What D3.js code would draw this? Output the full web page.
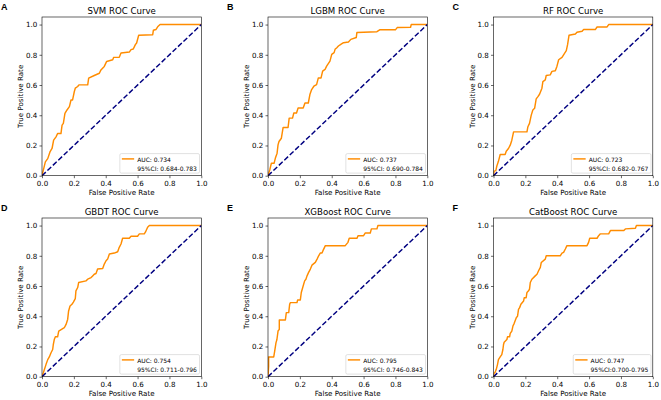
<!DOCTYPE html>
<html>
<head>
<meta charset="utf-8">
<script src="https://cdn.jsdelivr.net/npm/d3@7/dist/d3.min.js"></script>
<style>
  html, body { margin: 0; padding: 0; background: #fff; }
  svg { display: block; }
</style>
</head>
<body>
<svg id="chart" width="661" height="400"></svg>
<script>
// ---------- DATA ----------
const panelLetters = ["A", "B", "C", "D", "E", "F"];
const panelTitles = ["SVM ROC Curve", "LGBM ROC Curve", "RF ROC Curve",
                     "GBDT ROC Curve", "XGBoost ROC Curve", "CatBoost ROC Curve"];
const aucLabels = ["AUC: 0.734", "AUC: 0.737", "AUC: 0.723",
                   "AUC: 0.754", "AUC: 0.795", "AUC: 0.747"];
const ciLabels = ["95%CI: 0.684-0.783", "95%CI: 0.690-0.784", "95%CI: 0.682-0.767",
                  "95%CI: 0.711-0.796", "95%CI: 0.746-0.843", "95%CI:0.700-0.795"];
const tickValues = [0.0, 0.2, 0.4, 0.6, 0.8, 1.0];
const xLabel = "False Positive Rate";
const yLabel = "True Positive Rate";

const svmRoc = [[0,0],[0.008,0.035],[0.021,0.091],[0.036,0.113],[0.050,0.157],[0.063,0.180],
  [0.073,0.235],[0.088,0.257],[0.098,0.279],[0.119,0.279],[0.126,0.335],[0.134,0.346],
  [0.144,0.412],[0.157,0.435],[0.172,0.457],[0.182,0.501],[0.192,0.501],[0.203,0.557],
  [0.209,0.579],[0.224,0.590],[0.232,0.601],[0.287,0.601],[0.293,0.645],[0.328,0.663],
  [0.360,0.678],[0.370,0.700],[0.391,0.723],[0.406,0.756],[0.444,0.767],[0.450,0.783],
  [0.485,0.783],[0.496,0.812],[0.548,0.818],[0.559,0.834],[0.573,0.838],[0.586,0.867],
  [0.594,0.878],[0.607,0.929],[0.695,0.933],[0.699,0.962],[0.715,0.967],[0.726,0.985],
  [0.741,1.0],[1.0,1.0]];
const lgbmRoc = [[0,0],[0.011,0.038],[0.021,0.082],[0.038,0.082],[0.046,0.115],[0.057,0.149],
  [0.063,0.204],[0.069,0.226],[0.084,0.248],[0.095,0.319],[0.126,0.319],[0.133,0.381],
  [0.154,0.381],[0.162,0.415],[0.179,0.415],[0.189,0.448],[0.221,0.448],[0.232,0.481],
  [0.253,0.481],[0.263,0.537],[0.274,0.570],[0.288,0.592],[0.305,0.603],[0.316,0.647],
  [0.333,0.647],[0.343,0.692],[0.358,0.703],[0.368,0.725],[0.389,0.758],[0.400,0.803],
  [0.415,0.814],[0.421,0.836],[0.432,0.847],[0.442,0.858],[0.457,0.869],[0.474,0.880],
  [0.505,0.885],[0.520,0.902],[0.554,0.914],[0.558,0.947],[0.684,0.953],[0.701,0.965],
  [0.800,0.965],[0.811,0.980],[0.895,0.982],[0.899,1.0],[1.0,1.0]];
const rfRoc = [[0,0],[0.004,0.029],[0.015,0.035],[0.021,0.064],[0.031,0.095],[0.042,0.140],
  [0.073,0.140],[0.080,0.162],[0.094,0.180],[0.105,0.202],[0.115,0.235],[0.126,0.290],
  [0.210,0.290],[0.216,0.324],[0.226,0.346],[0.237,0.401],[0.247,0.435],[0.258,0.446],
  [0.268,0.508],[0.279,0.523],[0.289,0.539],[0.304,0.579],[0.310,0.623],[0.325,0.634],
  [0.331,0.663],[0.356,0.667],[0.367,0.690],[0.388,0.694],[0.398,0.723],[0.409,0.767],
  [0.430,0.783],[0.440,0.800],[0.457,0.827],[0.465,0.867],[0.474,0.929],[0.514,0.938],
  [0.524,0.949],[0.556,0.956],[0.566,0.967],[0.639,0.967],[0.650,0.984],[0.713,0.984],
  [0.723,1.0],[1.0,1.0]];
const gbdtRoc = [[0,0],[0.008,0.024],[0.015,0.047],[0.025,0.080],[0.036,0.113],[0.046,0.131],
  [0.056,0.157],[0.067,0.180],[0.071,0.213],[0.077,0.246],[0.084,0.264],[0.098,0.264],
  [0.105,0.302],[0.140,0.324],[0.151,0.346],[0.161,0.379],[0.167,0.435],[0.176,0.468],
  [0.188,0.479],[0.197,0.494],[0.209,0.517],[0.213,0.568],[0.224,0.590],[0.230,0.623],
  [0.276,0.634],[0.287,0.645],[0.308,0.656],[0.318,0.667],[0.328,0.678],[0.339,0.683],
  [0.349,0.712],[0.381,0.716],[0.391,0.745],[0.402,0.767],[0.412,0.778],[0.423,0.812],
  [0.454,0.818],[0.475,0.827],[0.485,0.856],[0.496,0.878],[0.506,0.916],[0.548,0.916],
  [0.559,0.929],[0.600,0.929],[0.611,0.945],[0.642,0.945],[0.649,0.956],[0.663,0.989],
  [0.674,1.0],[1.0,1.0]];
const xgbRoc = [[0,0],[0.004,0.069],[0.004,0.131],[0.036,0.131],[0.042,0.169],[0.050,0.224],
  [0.056,0.246],[0.063,0.302],[0.071,0.313],[0.071,0.375],[0.109,0.375],[0.115,0.424],
  [0.130,0.424],[0.136,0.479],[0.140,0.490],[0.182,0.490],[0.186,0.508],[0.203,0.508],
  [0.209,0.557],[0.218,0.590],[0.230,0.634],[0.238,0.645],[0.245,0.667],[0.255,0.690],
  [0.266,0.712],[0.276,0.738],[0.297,0.756],[0.308,0.778],[0.318,0.800],[0.328,0.818],
  [0.339,0.818],[0.345,0.834],[0.360,0.867],[0.485,0.867],[0.502,0.889],[0.510,0.916],
  [0.559,0.916],[0.565,0.933],[0.600,0.933],[0.611,0.951],[0.642,0.951],[0.649,0.978],
  [0.684,0.978],[0.690,1.0],[1.0,1.0]];
const catRoc = [[0,0],[0.004,0.024],[0.010,0.029],[0.017,0.047],[0.025,0.080],[0.031,0.113],
  [0.042,0.131],[0.052,0.146],[0.059,0.180],[0.063,0.213],[0.067,0.228],[0.084,0.246],
  [0.088,0.264],[0.101,0.264],[0.105,0.286],[0.115,0.302],[0.122,0.335],[0.130,0.353],
  [0.143,0.390],[0.151,0.401],[0.157,0.446],[0.164,0.457],[0.172,0.479],[0.189,0.501],
  [0.193,0.523],[0.205,0.523],[0.210,0.557],[0.220,0.568],[0.226,0.579],[0.231,0.623],
  [0.241,0.645],[0.262,0.667],[0.273,0.678],[0.283,0.701],[0.294,0.723],[0.300,0.756],
  [0.325,0.778],[0.331,0.800],[0.419,0.800],[0.430,0.818],[0.440,0.823],[0.451,0.845],
  [0.461,0.867],[0.587,0.867],[0.597,0.889],[0.604,0.916],[0.650,0.916],[0.660,0.933],
  [0.671,0.945],[0.723,0.945],[0.734,0.967],[0.818,0.967],[0.828,0.978],[0.891,0.982],
  [0.897,1.0],[1.0,1.0]];
const rocSeries = [svmRoc, lgbmRoc, rfRoc, gbdtRoc, xgbRoc, catRoc];
const diagonal = [[0, 0], [1, 1]];

// ---------- LAYOUT ----------
const colLeft = [42, 268, 493.5];
const rowTop = [17, 218];
const pw = 159.3, ph = 158.7;
const FONT = "'DejaVu Sans', sans-serif";

const svg = d3.select("#chart");
svg.append("rect").attr("width", 661).attr("height", 400).attr("fill", "#fff");

rocSeries.forEach((data, i) => {
  const col = i % 3, row = Math.floor(i / 3);
  const left = colLeft[col], top = rowTop[row];
  const x = d3.scaleLinear().domain([0, 1]).range([left, left + pw]);
  const y = d3.scaleLinear().domain([0, 1.05]).range([top + ph, top]);
  const g = svg.append("g");

  const clipId = "clip" + i;
  g.append("clipPath").attr("id", clipId)
    .append("rect").attr("x", left).attr("y", top).attr("width", pw).attr("height", ph);

  const line = d3.line().x(d => x(d[0])).y(d => y(d[1]));
  g.append("path").datum(data)
    .attr("d", line)
    .attr("fill", "none").attr("stroke", "#ff8c00").attr("stroke-width", 1.45)
    .attr("stroke-linejoin", "round")
    .attr("clip-path", `url(#${clipId})`);
  g.append("path").datum(diagonal)
    .attr("d", line)
    .attr("fill", "none").attr("stroke", "#000080").attr("stroke-width", 1.45)
    .attr("stroke-dasharray", "5.2,2.3")
    .attr("clip-path", `url(#${clipId})`);

  // axes
  const xAxis = d3.axisBottom(x).tickValues(tickValues).tickFormat(d3.format(".1f"))
    .tickSize(2.5).tickPadding(2.3);
  const yAxis = d3.axisLeft(y).tickValues(tickValues).tickFormat(d3.format(".1f"))
    .tickSize(2.5).tickPadding(2.3);
  const gx = g.append("g").attr("transform", `translate(0,${top + ph})`).call(xAxis);
  const gy = g.append("g").attr("transform", `translate(${left},0)`).call(yAxis);
  [gx, gy].forEach(a => {
    a.select(".domain").remove();
    a.selectAll("line").attr("stroke", "#000").attr("stroke-width", 0.6);
    a.selectAll("text").attr("font-family", FONT).attr("font-size", 7.1).attr("fill", "#000");
  });

  // frame
  g.append("rect").attr("x", left).attr("y", top).attr("width", pw).attr("height", ph)
    .attr("fill", "none").attr("stroke", "#000").attr("stroke-width", 0.6);

  // labels
  g.append("text").attr("x", left + pw / 2).attr("y", top + ph + 19.5)
    .attr("text-anchor", "middle").attr("font-family", FONT).attr("font-size", 7.1)
    .text(xLabel);
  g.append("text")
    .attr("transform", `translate(${left - 19},${top + ph / 2}) rotate(-90)`)
    .attr("text-anchor", "middle").attr("font-family", FONT).attr("font-size", 7.1)
    .text(yLabel);
  g.append("text").attr("x", left + pw / 2).attr("y", top - 3)
    .attr("text-anchor", "middle").attr("font-family", FONT).attr("font-size", 8.6)
    .text(panelTitles[i]);
  g.append("text").attr("x", left - 41).attr("y", top - 7.5)
    .attr("font-family", "'Liberation Sans', Arial, sans-serif").attr("font-weight", "bold")
    .attr("font-size", 9).text(panelLetters[i]);

  // legend
  const lg = g.append("g");
  const box = lg.append("rect");
  const t1 = lg.append("text").attr("font-family", FONT).attr("font-size", 6)
    .attr("dominant-baseline", "central").text(aucLabels[i]);
  const t2 = lg.append("text").attr("font-family", FONT).attr("font-size", 6)
    .attr("dominant-baseline", "central").text(ciLabels[i]);
  const tw = Math.max(t1.node().getComputedTextLength(), t2.node().getComputedTextLength());
  const bw = 17.3 + tw + 2.6, bh = 19.5;
  const bx = left + pw - 1.8 - bw, by = top + ph - 2.6 - bh;
  box.attr("x", bx).attr("y", by).attr("width", bw).attr("height", bh)
    .attr("rx", 1.5).attr("fill", "#fff").attr("fill-opacity", 0.8)
    .attr("stroke", "#cccccc").attr("stroke-width", 0.6);
  lg.append("line").attr("x1", bx + 2).attr("x2", bx + 14.3)
    .attr("y1", by + 5.3).attr("y2", by + 5.3)
    .attr("stroke", "#ff8c00").attr("stroke-width", 1.45);
  t1.attr("x", bx + 17.3).attr("y", by + 5.5);
  t2.attr("x", bx + 17.3).attr("y", by + 14.6);
});
</script>
</body>
</html>
